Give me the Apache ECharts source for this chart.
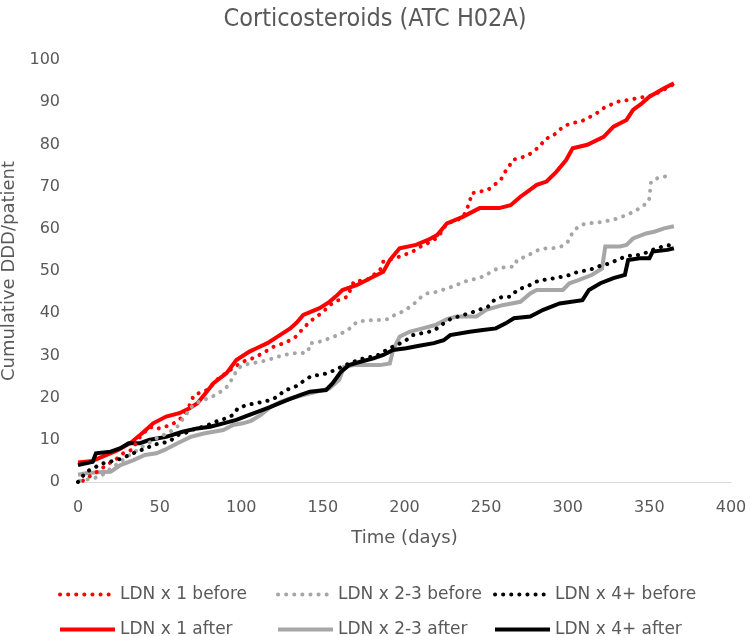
<!DOCTYPE html>
<html>
<head>
<meta charset="utf-8">
<script src="https://cdn.jsdelivr.net/npm/echarts@6/dist/echarts.min.js"></script>
<style>html,body{margin:0;padding:0;background:#fff}#c{width:750px;height:636px}</style>
</head>
<body>
<div id="c"></div>
<script>
var titleText = 'Corticosteroids (ATC H02A)';
var xAxisName = 'Time (days)';
var yAxisName = 'Cumulative DDD/patient';
var seriesNames = ['LDN x 1 before', 'LDN x 2-3 before', 'LDN x 4+ before', 'LDN x 1 after', 'LDN x 2-3 after', 'LDN x 4+ after'];

var ldn1Before = [[3,0.3],[7,1.3],[12,2.5],[19,4.4],[24,5.6],[28,6.9],[33,7.6],[38,10.7],[44,13.1],[48,12.5],[52,13.1],[56,13.3],[62,14.7],[67,17],[71,20.6],[79,21.8],[85,24.2],[93,26.5],[101,28.5],[107,29.3],[113,30.5],[120,32.1],[127,33],[133,34.3],[136,35.6],[142,38],[146,39.2],[150,40.2],[154,41.9],[159,43],[165,43.9],[169,47.5],[177,47.9],[185,50.2],[187,52.2],[192,52.8],[197,53.4],[205,54.6],[210,55.8],[218,57.3],[222,58.9],[226,61.3],[232,62],[236,62.9],[238,64.5],[240,66.4],[241,68.4],[246,68.8],[251,69.2],[255,70.4],[259,71.6],[261,73.2],[264,74.7],[266,76.3],[271,76.8],[276,77.5],[280,78.7],[283,79.5],[286,81.3],[290,81.8],[294,83],[297,84.2],[302,85],[308,85.4],[312,86.2],[316,87],[319,87.7],[323,88.9],[327,89.5],[332,90.3],[337,90.5],[342,90.9],[346,91.2],[350,91.4],[355,92.2],[360,93.2],[365,94.3]];
var ldn23Before = [[1,0.3],[4,0.5],[10,0.9],[15,1.7],[20,3.2],[25,4.5],[30,6],[35,7.2],[40,8.5],[45,9.6],[50,10.8],[55,11.5],[61,13.2],[66,15.9],[70,18],[75,19.2],[81,20],[86,21],[92,22.8],[94,24.2],[98,26.9],[101,27.7],[106,28.1],[112,28.5],[117,29],[126,30.1],[132,30.5],[137,30.5],[141,30.9],[142,32.9],[146,33],[151,33.6],[159,34.8],[165,35.9],[171,38],[176,38.2],[181,38.4],[186,38.4],[190,38.6],[194,39.6],[199,40.4],[205,41.9],[209,43.5],[214,44.7],[219,45],[224,45.6],[228,46.1],[232,46.7],[237,47.5],[241,47.9],[245,48.3],[249,48.8],[253,49.8],[257,50.6],[263,51],[267,51],[269,52.6],[274,53.4],[278,54.2],[282,55],[287,55.4],[291,55.4],[296,55.8],[300,56.9],[302,58.5],[305,60],[308,60.9],[312,61.3],[317,61.4],[322,61.7],[327,62.1],[331,62.5],[336,63.3],[341,64.1],[345,65.2],[349,66.2],[350,67.2],[350.5,69.2],[351,71.2],[355,72],[361,72.5]];
var ldn4Before = [[0,0],[5,2.4],[10,3.4],[15,4.4],[24,5.2],[29,6],[36,7.2],[42,8],[46,8.8],[51,9.2],[56,9.6],[61,11.1],[68,11.9],[72,12.7],[77,13.1],[82,13.9],[87,14.7],[91,15.1],[95,15.9],[98,17.5],[103,18.2],[108,18.6],[113,19],[118,19.4],[122,20.2],[127,21.8],[131,22.2],[135,23],[139,24.2],[143,25.1],[148,25.4],[153,25.8],[157,26.5],[162,27.4],[168,28.4],[174,29.2],[180,29.7],[184,30.1],[189,31.3],[193,32.1],[197,32.8],[201,33.6],[205,34.8],[210,35.2],[215,35.6],[220,36.4],[224,37.6],[229,38.8],[233,39.2],[238,39.8],[243,40.4],[247,41],[251,41.5],[255,43.1],[260,43.9],[265,43.9],[269,45.5],[273,46.1],[277,46.7],[282,47.7],[287,48],[292,48.3],[297,48.7],[302,49.1],[306,49.8],[311,50.1],[316,50.6],[321,51.4],[326,51.8],[330,52.6],[334,53.2],[338,53.6],[343,53.8],[347,54.2],[352,55],[358,55.8],[363,56.2]];
var ldn1After = [[0,4.6],[9,5],[15,6],[24,7.5],[32,9.2],[40,11.8],[46,13.9],[54,15.5],[62,16.3],[67,17.2],[73,18.6],[78,21],[83,23.4],[91,25.8],[97,28.9],[105,30.9],[110,31.8],[116,32.9],[122,34.4],[130,36.4],[134,37.8],[138,39.6],[148,41.2],[154,42.7],[158,44],[162,45.5],[171,46.7],[179,48.3],[187,49.8],[191,52.6],[197,55.4],[207,56.2],[214,57.3],[220,58.5],[226,61.3],[236,62.9],[246,64.9],[258,64.9],[265,65.6],[271,67.6],[276,69],[281,70.4],[287,71.2],[293,73.5],[299,76.3],[303,79.1],[312,79.9],[322,81.8],[328,84.2],[336,85.8],[340,88.2],[345,89.6],[350,91.3],[354,92.2],[359,93.3],[365,94.5]];
var ldn23After = [[0,1.7],[5,2.1],[12,2.3],[20,2.4],[26,4],[34,5.2],[41,6.4],[48,6.8],[53,7.6],[61,9.2],[69,10.7],[77,11.5],[83,11.9],[89,12.3],[95,13.5],[101,13.9],[106,14.5],[112,15.9],[118,17.8],[124,19],[130,19.8],[138,20.6],[146,21.4],[154,22.2],[160,24.2],[163,27.3],[169,27.7],[177,27.7],[185,27.7],[191,28.1],[193,31.3],[197,34.4],[203,35.6],[211,36.4],[219,37.2],[226,38.6],[232,39.2],[244,39.2],[250,40.8],[260,41.9],[271,42.7],[277,44.7],[281,45.5],[297,45.5],[301,47.1],[307,47.9],[315,49.1],[321,50.6],[323,55.8],[332,55.8],[336,56.2],[340,57.7],[348,58.9],[353,59.3],[359,60.1],[365,60.6]];
var ldn4After = [[0,4],[9,4.8],[11,6.8],[20,7.2],[26,8],[31,9.2],[38,9.2],[44,10],[54,10.7],[64,11.9],[73,12.7],[81,13.1],[89,13.9],[97,14.7],[105,15.9],[112,16.9],[118,17.8],[128,19.4],[136,20.6],[142,21.4],[152,21.8],[156,23.4],[161,26.1],[166,27.7],[173,28.5],[181,29.3],[187,30.1],[193,31.3],[201,31.7],[209,32.3],[218,32.9],[224,33.6],[228,34.8],[240,35.6],[248,36],[256,36.4],[262,37.6],[267,38.8],[277,39.2],[285,40.8],[295,42.3],[309,43.1],[313,45.5],[320,47.1],[328,48.3],[335,49.1],[337,52.6],[344,53],[350,53],[352,54.6],[361,55],[365,55.4]];

var xTicks = {min: 0, max: 400, interval: 50};
var yTicks = {min: 0, max: 100, interval: 10};

var seriesData = [ldn1Before, ldn23Before, ldn4Before, ldn1After, ldn23After, ldn4After];
var colors = ['#ff0000', '#a6a6a6', '#000000', '#ff0000', '#a6a6a6', '#000000'];
var txt = '#595959';
var font = 'DejaVu Sans';
var dotDash = [0.1, 8];

var series = seriesData.map(function (d, i) {
  var dotted = i < 3;
  return {
    name: seriesNames[i],
    type: 'line',
    data: d,
    symbol: 'none',
    showSymbol: false,
    animation: false,
    z: dotted ? 3 : 2,
    lineStyle: {
      color: colors[i],
      width: 4,
      type: dotted ? dotDash : 'solid',
      cap: dotted ? 'round' : 'butt',
      join: 'miter'
    },
    itemStyle: {color: colors[i]}
  };
});

var legendCols = [53, 271, 488];
var legendRows = [581, 616];
var legends = seriesNames.map(function (n, i) {
  var dotted = i < 3;
  return {
    data: [n],
    left: legendCols[i % 3],
    top: legendRows[Math.floor(i / 3)],
    itemWidth: 55, itemHeight: 1,
    itemStyle: {opacity: 0},
    lineStyle: {width: 4, color: colors[i], type: dotted ? dotDash : 'solid', cap: dotted ? 'round' : 'butt'},
    textStyle: {color: txt, fontSize: 17, fontFamily: font}
  };
});

var chart = echarts.init(document.getElementById('c'), null, {renderer: 'canvas'});
chart.setOption({
  backgroundColor: '#ffffff',
  animation: false,
  title: {
    text: titleText,
    left: 'center',
    top: 2,
    textStyle: {color: txt, fontSize: 25, fontWeight: 'normal', fontFamily: 'DejaVu Sans Condensed'}
  },
  legend: legends,
  grid: {left: 78, right: 19, top: 60, bottom: 154, containLabel: false, outerBoundsMode: 'none'},
  xAxis: {
    type: 'value',
    min: xTicks.min, max: xTicks.max, interval: xTicks.interval,
    name: xAxisName,
    nameLocation: 'middle',
    nameGap: 47,
    nameTextStyle: {color: txt, fontSize: 18, fontFamily: font},
    axisLine: {show: true, lineStyle: {color: '#d9d9d9', width: 1}},
    axisTick: {show: false},
    splitLine: {show: false},
    axisLabel: {color: txt, fontSize: 16, fontFamily: font, margin: 18}
  },
  yAxis: {
    type: 'value',
    min: yTicks.min, max: yTicks.max, interval: yTicks.interval,
    name: yAxisName,
    nameLocation: 'middle',
    nameGap: 49,
    nameRotate: 90,
    nameTextStyle: {color: txt, fontSize: 18, fontFamily: font},
    axisLine: {show: false},
    axisTick: {show: false},
    splitLine: {show: false},
    axisLabel: {color: txt, fontSize: 16, fontFamily: font, margin: 18}
  },
  series: series
});
</script>
</body>
</html>
